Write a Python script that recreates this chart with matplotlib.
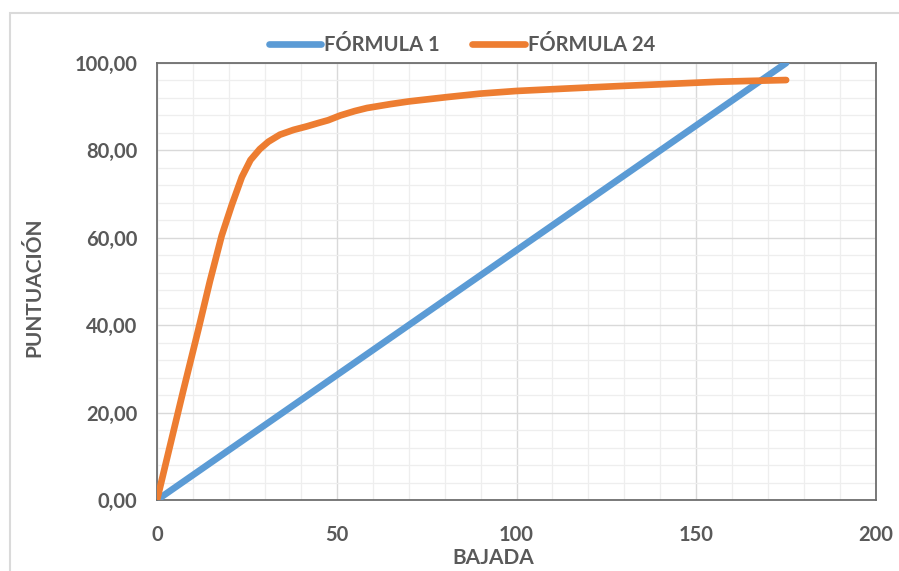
import matplotlib
matplotlib.use("Agg")
import matplotlib.pyplot as plt
from matplotlib.patches import Rectangle
from matplotlib.ticker import MultipleLocator, FuncFormatter

plt.rcParams['font.family'] = ['Lato', 'DejaVu Sans']

# Data
blue_x = [0, 175]
blue_y = [0, 100]
orange_x = [0, 3.5, 7.3, 11.5, 14.7, 18, 20.8, 23.6, 26, 28.6, 31, 34.2, 38, 41.7,
            45, 47.6, 51, 55, 58.4, 65, 70, 80.7, 90, 100, 115, 128, 142, 155.8, 165, 175]
orange_y = [0, 12, 25, 39, 50, 60.5, 67.5, 73.9, 77.8, 80.3, 82, 83.6, 84.7, 85.5,
            86.3, 86.9, 88, 89, 89.7, 90.6, 91.2, 92.2, 93, 93.6, 94.2, 94.7, 95.2, 95.7, 95.9, 96.1]
series_names = ["FÓRMULA 1", "FÓRMULA 24"]
x_ticks = [0, 50, 100, 150, 200]
y_ticks = [0, 20, 40, 60, 80, 100]

W, H = 899, 571
fig = plt.figure(figsize=(W / 100, H / 100), dpi=100)
ax = fig.add_axes([157 / W, 1 - 500 / H, (876 - 157) / W, (500 - 63) / H])

txt = '#595959'
blue = '#5B9BD5'
orange = '#ED7D31'

ax.plot(blue_x, blue_y, color=blue, lw=4.8, solid_capstyle='round', label=series_names[0], zorder=3)
ax.plot(orange_x, orange_y, color=orange, lw=4.8, solid_capstyle='round',
        solid_joinstyle='round', label=series_names[1], zorder=4)

ax.set_xlim(0, 200)
ax.set_ylim(0, 100)
ax.set_xticks(x_ticks)
ax.set_yticks(y_ticks)
ax.xaxis.set_minor_locator(MultipleLocator(10))
ax.yaxis.set_minor_locator(MultipleLocator(4))
ax.yaxis.set_major_formatter(FuncFormatter(lambda v, p: f"{v:.2f}".replace('.', ',')))
ax.xaxis.set_major_formatter(FuncFormatter(lambda v, p: f"{int(v)}"))
ax.grid(which='major', color='#D9D9D9', lw=1.0, zorder=0)
ax.grid(which='minor', color='#EEEEEE', lw=0.9, zorder=0)
ax.set_axisbelow(True)
ax.tick_params(which='both', length=0)
ax.tick_params(axis='x', pad=18, labelsize=14.5, labelcolor=txt)
ax.tick_params(axis='y', pad=14, labelsize=14.5, labelcolor=txt)
for lab in ax.get_xticklabels() + ax.get_yticklabels():
    lab.set_fontweight('bold')
for s in ax.spines.values():
    s.set_color('#6E6E6E')
    s.set_linewidth(1.3)

fig.text(493 / W, 1 - 558 / H, "BAJADA", ha='center', va='center', fontsize=15,
         color=txt, fontweight='bold')
fig.text(34 / W, 1 - 287 / H, "PUNTUACIÓN", ha='center', va='center', fontsize=15,
         color=txt, fontweight='bold', rotation=90)

leg = fig.legend(loc='center', bbox_to_anchor=(462 / W, 1 - 45 / H), ncol=2, frameon=False,
                 fontsize=14.5, handlelength=2.6, handletextpad=0.15, columnspacing=1.6)
for t in leg.get_texts():
    t.set_color(txt)
    t.set_fontweight('bold')

fig.patches.append(Rectangle((10 / W, -0.05), 1.2, 1 - 13 / H + 0.05, transform=fig.transFigure,
                             fill=False, edgecolor='#DADADA', lw=1.5, zorder=0))

fig.savefig("out.png", dpi=100)
